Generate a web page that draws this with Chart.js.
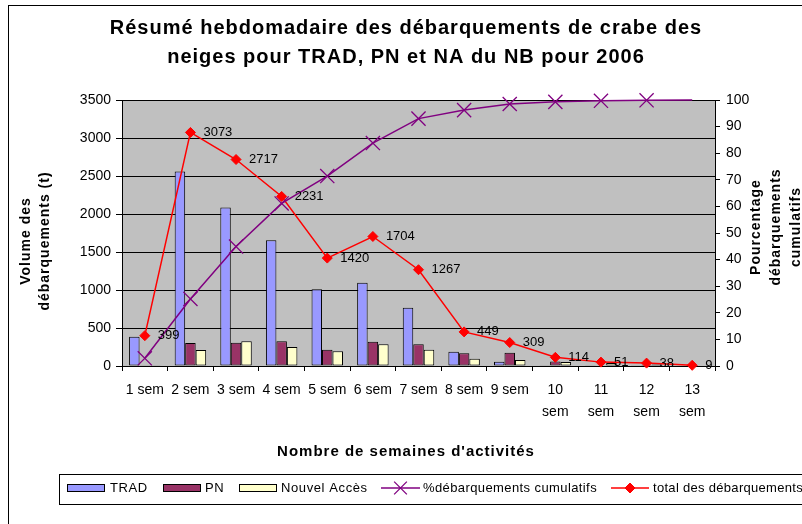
<!DOCTYPE html>
<html><head><meta charset="utf-8">
<script src="https://cdn.jsdelivr.net/npm/chart.js@4.4.0/dist/chart.umd.min.js"></script>
<style>html,body{margin:0;padding:0;background:#fff;}canvas{display:block}</style>
</head><body>
<canvas id="c" width="802" height="524"></canvas>
<script>
// ---- data ----
const weeks = ['1 sem','2 sem','3 sem','4 sem','5 sem','6 sem','7 sem','8 sem','9 sem',['10','sem'],['11','sem'],['12','sem'],['13','sem']];
const trad = [385,2560,2085,1655,1010,1097,767,187,55,4,3,3,0];
const pn = [10,302,305,325,215,320,285,167,175,58,8,15,4];
const nouvelAcces = [4,211,327,251,195,287,215,95,79,52,40,20,5];
const totals = [399,3073,2717,2231,1420,1704,1267,449,309,114,51,38,9];
const cumulPct = [2.9,25.2,44.9,61.1,71.4,83.8,93.0,96.2,98.5,99.3,99.7,99.9,100];
const volumeTicks = {min:0, max:3500, step:500};
const pctTicks = {min:0, max:100, step:10};
const seriesNames = ['TRAD','PN','Nouvel Accès','%débarquements cumulatifs','total des débarquements'];
const titleLines = ['Résumé hebdomadaire des débarquements de crabe des','neiges pour TRAD, PN et NA du NB pour 2006'];
const yTitle = ['Volume des','débarquements (t)'];
const y1Title = ['Pourcentage','débarquements','cumulatifs'];
const xTitle = "Nombre de semaines d'activités";

const FONT = '"Liberation Sans", Arial, sans-serif';
const COLORS = {trad:'#9999FF', pn:'#993366', na:'#FFFFCC', cum:'#800080', tot:'#FF0000', plot:'#C0C0C0'};

function spacedText(ctx, text, x, y, spacing){
  ctx.letterSpacing = spacing + 'px';
  ctx.fillText(text, x, y);
  ctx.letterSpacing = '0px';
}

function drawMarker(ctx, style, x, y, r, color, lw){
  ctx.save();
  ctx.strokeStyle = color; ctx.fillStyle = color; ctx.lineWidth = lw;
  ctx.beginPath();
  if (style === 'x') {
    const d = r*0.707;
    ctx.moveTo(x-d,y-d); ctx.lineTo(x+d,y+d);
    ctx.moveTo(x+d,y-d); ctx.lineTo(x-d,y+d);
    ctx.stroke();
  } else {
    ctx.moveTo(x-r,y); ctx.lineTo(x,y-r); ctx.lineTo(x+r,y); ctx.lineTo(x,y+r); ctx.closePath();
    ctx.fill(); ctx.stroke();
  }
  ctx.restore();
}

const deco = {
  id:'deco',
  beforeDraw(chart){
    const {ctx, chartArea:a} = chart;
    ctx.save();
    ctx.fillStyle = '#fff';
    ctx.fillRect(0,0,chart.width,chart.height);
    ctx.fillStyle = COLORS.plot;
    ctx.fillRect(a.left, a.top, a.right-a.left, a.bottom-a.top);
    ctx.restore();
  },
  afterDraw(chart){
    const {ctx, chartArea:a} = chart;
    ctx.save();
    // outer border
    ctx.strokeStyle = '#000'; ctx.lineWidth = 1;
    ctx.strokeRect(8.5, 5.5, 900, 700);
    // title
    ctx.fillStyle = '#000';
    ctx.textAlign = 'center'; ctx.textBaseline = 'alphabetic';
    ctx.font = 'bold 20px ' + FONT;
    spacedText(ctx, titleLines[0], 406, 34, 1);
    spacedText(ctx, titleLines[1], 406, 63, 1);
    // x title
    ctx.font = 'bold 15px ' + FONT;
    spacedText(ctx, xTitle, 406, 456, 1);
    // left y title
    ctx.font = 'bold 14px ' + FONT;
    ctx.textBaseline = 'middle';
    const yc = (a.top + a.bottom)/2;
    [26,45].forEach((x,i)=>{
      ctx.save(); ctx.translate(x, yc+8); ctx.rotate(-Math.PI/2);
      spacedText(ctx, yTitle[i], 0, 0, 1); ctx.restore();
    });
    [756,776,796].forEach((x,i)=>{
      ctx.save(); ctx.translate(x, yc-6); ctx.rotate(-Math.PI/2);
      spacedText(ctx, y1Title[i], 0, 0, 1); ctx.restore();
    });
    // data labels for totals
    ctx.font = '13px ' + FONT;
    ctx.textAlign = 'left'; ctx.textBaseline = 'middle';
    const meta = chart.getDatasetMeta(4);
    meta.data.forEach((pt,i)=>{
      ctx.fillText(String(totals[i]), pt.x + 13, pt.y);
    });
    // legend
    ctx.strokeStyle = '#000'; ctx.lineWidth = 1;
    ctx.strokeRect(59.5, 474.5, 800, 30);
    const ly = 488;
    ctx.font = '13px ' + FONT;
    ctx.textBaseline = 'middle'; ctx.textAlign = 'left';
    const ds = chart.data.datasets;
    [[67.5,110],[163.5,205],[239.5,281]].forEach(([sx,tx],i)=>{
      ctx.fillStyle = ds[i].backgroundColor;
      ctx.fillRect(sx, 484.5, 37, 7);
      ctx.strokeStyle = '#000';
      ctx.strokeRect(sx, 484.5, 37, 7);
      ctx.fillStyle = '#000';
      spacedText(ctx, ds[i].label, tx, ly, 0.6);
    });
    // line items
    ctx.strokeStyle = ds[3].borderColor; ctx.lineWidth = 1.5;
    ctx.beginPath(); ctx.moveTo(381, ly); ctx.lineTo(420, ly); ctx.stroke();
    drawMarker(ctx, 'x', 400.5, ly, 9, ds[3].borderColor, 1.3);
    ctx.fillStyle = '#000';
    spacedText(ctx, ds[3].label, 423, ly, 0.4);
    ctx.strokeStyle = ds[4].borderColor; ctx.lineWidth = 1.5;
    ctx.beginPath(); ctx.moveTo(611, ly); ctx.lineTo(649, ly); ctx.stroke();
    drawMarker(ctx, 'd', 630, ly, 5, ds[4].borderColor, 1);
    ctx.fillStyle = '#000';
    spacedText(ctx, ds[4].label, 653, ly, 0.3);
    ctx.restore();
  }
};

const barCommon = {type:'bar', borderColor:'#000', borderWidth:1, borderSkipped:false, yAxisID:'y', categoryPercentage:0.69, barPercentage:1.0};
const plainNumber = v => String(v);

new Chart(document.getElementById('c'), {
  data:{
    labels: weeks,
    datasets:[
      Object.assign({label:seriesNames[0], data:trad, backgroundColor:COLORS.trad, order:2}, barCommon),
      Object.assign({label:seriesNames[1], data:pn, backgroundColor:COLORS.pn, order:3}, barCommon),
      Object.assign({label:seriesNames[2], data:nouvelAcces, backgroundColor:COLORS.na, order:4}, barCommon),
      {type:'line', label:seriesNames[3], data:cumulPct, yAxisID:'y1', borderColor:COLORS.cum, backgroundColor:COLORS.cum,
       borderWidth:1.5, pointStyle:'crossRot', pointRadius:cumulPct.map((v,i)=> i===cumulPct.length-1 ? 0 : 10),
       pointBorderWidth:1.3, pointBorderColor:COLORS.cum, tension:0, order:0, clip:false},
      {type:'line', label:seriesNames[4], data:totals, yAxisID:'y', borderColor:COLORS.tot, backgroundColor:COLORS.tot,
       borderWidth:1.5, pointStyle:'rectRot', pointRadius:5, pointBorderWidth:1, tension:0, order:1, clip:false}
    ]
  },
  options:{
    responsive:false, animation:false, devicePixelRatio:1,
    layout:{padding:{top:100,left:0,right:0,bottom:0}},
    plugins:{legend:{display:false}, title:{display:false}, tooltip:{enabled:false}},
    scales:{
      x:{
        grid:{offset:true, drawOnChartArea:false, color:'#000', tickLength:5},
        border:{color:'#000', width:1},
        ticks:{autoSkip:false, maxRotation:0, minRotation:0, color:'#000', padding:8,
               font:{family:FONT, size:14, lineHeight:1.6}},
        afterFit(s){ s.height = 158; }
      },
      y:{
        position:'left', min:volumeTicks.min, max:volumeTicks.max,
        grid:{color:'#000', tickLength:6},
        border:{color:'#000', width:1},
        ticks:{stepSize:volumeTicks.step, color:'#000', padding:5, callback:plainNumber, font:{family:FONT, size:14}},
        afterFit(s){ s.width = 122; }
      },
      y1:{
        position:'right', min:pctTicks.min, max:pctTicks.max,
        grid:{drawOnChartArea:false, color:'#000', tickLength:5},
        border:{color:'#000', width:1},
        ticks:{stepSize:pctTicks.step, color:'#000', padding:6, callback:plainNumber, font:{family:FONT, size:14}},
        afterFit(s){ s.width = 87; }
      }
    }
  },
  plugins:[deco]
});
</script>
</body></html>
